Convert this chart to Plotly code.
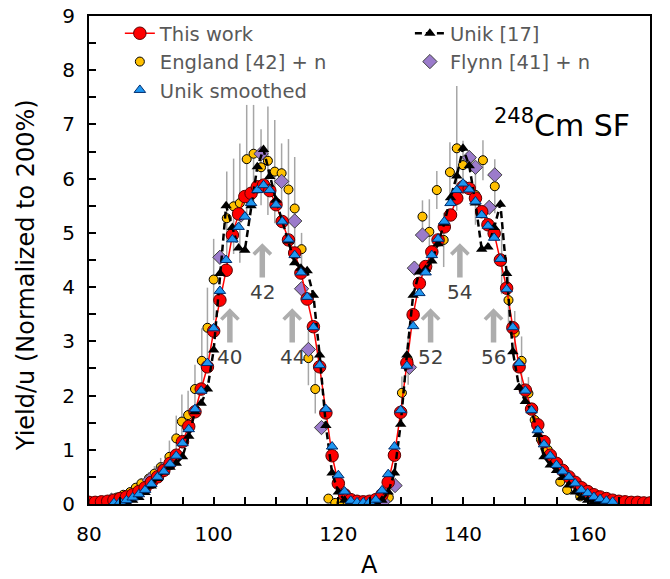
import plotly.graph_objects as go

# ---------------- data ----------------
A_this = list(range(80, 171))
Y_this = [0.03, 0.03, 0.04, 0.05, 0.07, 0.10, 0.13, 0.17, 0.23, 0.30,
          0.40, 0.50, 0.62, 0.75, 0.90, 1.15, 1.43, 1.70, 2.12, 2.53,
          3.19, 3.76, 4.31, 4.96, 5.35, 5.67, 5.73, 5.85, 5.88, 5.78,
          5.52, 5.21, 4.87, 4.63, 4.26, 3.78, 3.27, 2.53, 1.68, 0.89,
          0.38, 0.17, 0.08, 0.05, 0.04, 0.05, 0.08, 0.17, 0.40, 0.90,
          1.69, 2.60, 3.49, 4.07, 4.38, 4.65, 4.87, 5.11, 5.33, 5.64,
          5.85, 5.82, 5.64, 5.39, 5.15, 4.99, 4.50, 3.98, 3.25, 2.53,
          2.10, 1.75, 1.46, 1.15, 0.90, 0.75, 0.62, 0.50, 0.40, 0.30,
          0.23, 0.17, 0.13, 0.10, 0.07, 0.05, 0.04, 0.03, 0.03, 0.02,
          0.02]

A_unik = list(range(84, 165))
Y_unik = [0.01, 0.02, 0.04, 0.07, 0.12, 0.21, 0.33, 0.47, 0.59, 0.68,
          0.75, 0.87, 1.25, 1.70, 1.86, 2.12, 2.84, 4.25, 5.50, 5.10,
          4.72, 4.68, 5.50, 6.22, 6.54, 6.04, 5.60, 5.22, 4.85, 4.45,
          4.35, 4.30, 3.85, 2.75, 1.45, 0.57, 0.22, 0.07, 0.03, 0.02,
          0.02, 0.02, 0.03, 0.07, 0.22, 0.57, 1.47, 2.75, 3.85, 4.28,
          4.33, 4.48, 4.80, 5.18, 5.65, 6.05, 6.56, 6.24, 5.55, 4.70,
          4.74, 5.10, 5.53, 4.25, 2.81, 2.15, 1.89, 1.72, 1.28, 0.87,
          0.72, 0.62, 0.49, 0.35, 0.22, 0.12, 0.07, 0.04, 0.03, 0.02,
          0.01]

A_smooth = list(range(84, 165))
Y_smooth = [0.02, 0.04, 0.07, 0.12, 0.18, 0.26, 0.37, 0.50, 0.60, 0.74,
            0.89, 1.12, 1.38, 1.75, 2.09, 2.60, 3.24, 3.93, 4.50, 4.88,
            5.11, 5.30, 5.55, 5.79, 5.88, 5.79, 5.52, 5.21, 4.88, 4.59,
            4.27, 3.82, 3.26, 2.56, 1.75, 1.06, 0.53, 0.23, 0.06, 0.03,
            0.03, 0.04, 0.08, 0.25, 0.55, 1.06, 1.73, 2.55, 3.28, 3.89,
            4.27, 4.59, 4.89, 5.21, 5.55, 5.79, 5.91, 5.80, 5.58, 5.33,
            5.13, 4.91, 4.52, 3.96, 3.26, 2.60, 2.09, 1.73, 1.36, 1.10,
            0.89, 0.72, 0.60, 0.50, 0.38, 0.26, 0.20, 0.13, 0.09, 0.06,
            0.04]

A_england = [80.6, 81.6, 82.6, 83.6, 84.5, 85.5, 86.6, 87.5, 88.4, 89.6,
             90.5, 91.5, 92.9, 94.0, 94.9, 95.9, 97.0, 98.1, 99.0, 100.0,
             102.1, 103.2, 104.2, 105.3, 106.4, 107.6, 108.7, 109.8, 110.9, 112.0,
             113.0, 114.1, 115.2, 116.3, 118.4, 119.5, 120.5, 121.5, 126.9, 128.1,
             130.2, 131.2, 133.5, 134.6, 135.8, 136.9, 137.9, 139.0, 140.0, 142.0,
             143.2, 145.1, 146.2, 147.3, 148.3, 149.4, 150.5, 151.5, 152.5, 153.6,
             155.6, 156.7, 158.8, 160.6, 162.6, 164.5, 165.5, 166.5, 167.5, 168.5,
             169.6]
Y_england = [0.03, 0.04, 0.06, 0.08, 0.12, 0.17, 0.22, 0.30, 0.38, 0.47,
             0.56, 0.68, 0.87, 1.21, 1.52, 1.64, 2.12, 2.64, 3.25, 4.14,
             5.27, 5.49, 5.55, 6.36, 6.46, 6.21, 6.33, 6.13, 6.10, 5.80,
             5.45, 4.70, 2.69, 2.12, 0.10, 0.02, 0.02, 0.02, 0.03, 0.12,
             2.05, 2.65, 5.30, 5.02, 5.79, 4.87, 6.12, 6.56, 6.25, 5.70,
             6.34, 5.86, 4.47, 3.76, 3.16, 2.64, 2.04, 1.55, 1.19, 1.00,
             0.41, 0.26, 0.14, 0.08, 0.05, 0.04, 0.03, 0.03, 0.03, 0.03,
             0.03]
E_england = [0.02, 0.02, 0.02, 0.03, 0.04, 0.05, 0.06, 0.08, 0.10, 0.12,
             0.14, 0.17, 0.30, 0.42, 0.50, 0.45, 0.45, 0.60, 0.74, 0.75,
             0.86, 0.88, 1.10, 1.00, 0.90, 0.70, 1.00, 0.95, 0.55, 0.93,
             0.95, 0.30, 0.50, 0.45, 0.03, 0.01, 0.01, 0.01, 0.01, 0.03,
             0.30, 0.45, 0.30, 0.60, 0.35, 0.50, 0.55, 1.15, 0.45, 0.55,
             0.37, 0.50, 0.60, 0.55, 0.40, 0.45, 0.30, 0.25, 0.20, 0.20,
             0.08, 0.06, 0.04, 0.02, 0.02, 0.02, 0.02, 0.02, 0.02, 0.02,
             0.02]

A_flynn = [83.6, 89.7, 91.8, 101.0, 104.4, 107.6, 110.9, 113.0, 114.1, 115.2,
           117.3, 127.2, 129.1, 131.4, 132.2, 133.5, 141.0, 142.0, 144.2, 145.1]
Y_flynn = [0.07, 0.44, 0.64, 4.55, 5.33, 6.46, 5.95, 5.22, 3.97, 2.85,
           1.41, 0.04, 0.34, 2.52, 4.35, 4.96, 6.39, 6.21, 5.47, 6.07]

# shell-closure arrows: label, A position, arrow tip, label y
arrow_labels = ["40", "42", "44", "52", "54", "56"]
arrow_A = [102.6, 107.8, 112.6, 134.8, 139.5, 144.9]
arrow_tip = [3.61, 4.81, 3.61, 3.61, 4.81, 3.61]
label_y = [2.71, 3.91, 2.71, 2.71, 3.91, 2.71]

FONT = "DejaVu Sans"

fig = go.Figure()

fig.add_trace(go.Scatter(
    x=A_england, y=Y_england, name="England [42] + n", mode="markers",
    marker=dict(symbol="circle", size=9, color="#FFC000",
                line=dict(color="#000000", width=1)),
    error_y=dict(type="data", array=E_england, visible=True,
                 color="#A6A6A6", thickness=1.5, width=0),
    legend="legend", legendrank=2))

fig.add_trace(go.Scatter(
    x=A_flynn, y=Y_flynn, name="Flynn [41] + n", mode="markers",
    marker=dict(symbol="diamond", size=11, color="#9B7BCB",
                line=dict(color="#3F3F3F", width=1)),
    legend="legend2", legendrank=2))

fig.add_trace(go.Scatter(
    x=A_this, y=Y_this, name="This work", mode="lines+markers",
    line=dict(color="#FF0000", width=1.5),
    marker=dict(symbol="circle", size=12.5, color="#FF0000",
                line=dict(color="#5A0000", width=1)),
    legend="legend", legendrank=1))

fig.add_trace(go.Scatter(
    x=A_unik, y=Y_unik, name="Unik [17]", mode="lines+markers",
    line=dict(color="#000000", width=2.5, dash="7px,4px"),
    marker=dict(symbol="triangle-up", size=10, color="#000000"),
    legend="legend2", legendrank=1))

fig.add_trace(go.Scatter(
    x=A_smooth, y=Y_smooth, name="Unik smoothed", mode="markers",
    marker=dict(symbol="triangle-up", size=10, color="#1E96F0",
                line=dict(color="#002D6E", width=1)),
    legend="legend", legendrank=3))

annotations = []
for lab, ax_, tip, ly in zip(arrow_labels, arrow_A, arrow_tip, label_y):
    annotations.append(dict(
        x=ax_, y=tip, ax=ax_, ay=ly, xref="x", yref="y", axref="x", ayref="y",
        text=lab, showarrow=True, arrowhead=4, arrowsize=0.6, arrowwidth=5.5,
        arrowcolor="#ADADAD", startstandoff=1,
        font=dict(family=FONT, size=20, color="#404040")))

annotations.append(dict(
    x=144.66, y=7.02, xref="x", yref="y", xanchor="left", yanchor="middle",
    text="<sup>248</sup>Cm SF", showarrow=False,
    font=dict(family=FONT, size=30, color="#000000")))

# axis titles
annotations.append(dict(
    x=0.5, y=-0.125, xref="paper", yref="paper", xanchor="center", yanchor="middle",
    text="A", showarrow=False, font=dict(family=FONT, size=24, color="#000000")))
annotations.append(dict(
    x=-0.1123, y=0.469, xref="paper", yref="paper", xanchor="center", yanchor="middle",
    text="Yield/u (Normalized to 200%)", textangle=-90, showarrow=False,
    font=dict(family=FONT, size=24, color="#000000")))

axis_common = dict(
    showline=True, linecolor="#000000", linewidth=2, mirror=True,
    showgrid=False, zeroline=False, automargin=False,
    ticks="inside", ticklen=7, tickwidth=1.5, tickcolor="#000000",
    tickfont=dict(family=FONT, size=20, color="#000000"),
)

fig.update_layout(
    width=670, height=579,
    margin=dict(l=89, r=20, t=16, b=75, autoexpand=False),
    paper_bgcolor="white", plot_bgcolor="white",
    font=dict(family=FONT, size=20, color="#000000"),
    xaxis=dict(range=[80, 170], tick0=80, dtick=20,
               minor=dict(dtick=5, ticks="inside", ticklen=7, tickwidth=1.5,
                          tickcolor="#000000"),
               ticklabelstandoff=11, **axis_common),
    yaxis=dict(range=[0, 9], tick0=0, dtick=1,
               minor=dict(dtick=0.5, ticks="inside", ticklen=7, tickwidth=1.5,
                          tickcolor="#000000"),
               ticklabelstandoff=8, **axis_common),
    legend=dict(x=0.055, y=1.004, xanchor="left", yanchor="top",
                bgcolor="rgba(0,0,0,0)", borderwidth=0,
                font=dict(family=FONT, size=19.5, color="#595959"),
                traceorder="normal"),
    legend2=dict(x=0.572, y=1.004, xanchor="left", yanchor="top",
                 bgcolor="rgba(0,0,0,0)", borderwidth=0,
                 font=dict(family=FONT, size=19.5, color="#595959"),
                 traceorder="normal"),
    annotations=annotations,
    showlegend=True,
)

fig.write_html("out.html")
